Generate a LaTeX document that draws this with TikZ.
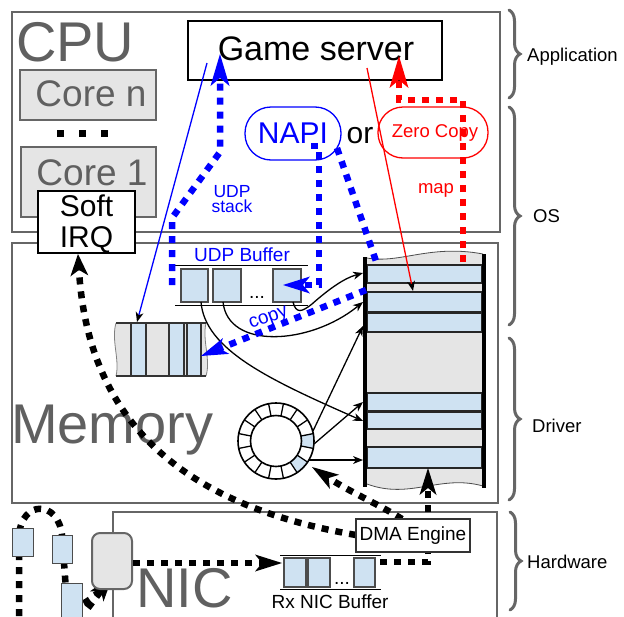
\documentclass[tikz,border=0pt]{standalone}
\usepackage{fontspec}
\setmainfont{Liberation Sans}
\usetikzlibrary{arrows.meta,decorations.pathreplacing}
\definecolor{lblue}{RGB}{207,226,242}
\definecolor{lgray}{RGB}{229,229,229}
\definecolor{bgray}{RGB}{102,102,102}
\definecolor{tgray}{RGB}{96,96,96}
\begin{document}
\begin{tikzpicture}[x=1pt,y=-1pt,
  every node/.style={inner sep=0pt},
  outer/.style={draw=bgray,line width=2.5pt},
  corebox/.style={draw=bgray,fill=lgray,line width=2pt},
  bigdots/.style={line width=6.5pt,dash pattern=on 7pt off 7pt},
  cell/.style={draw=black!70,fill=lblue,line width=1.2pt},
  thinarr/.style={line width=1.3pt,-{Stealth[length=10pt,width=8pt,inset=3pt,line width=0pt,color=black,fill=black]}},
  bighead/.style={-{Stealth[length=32pt,width=19pt,inset=8pt,line width=0pt]}},
  midhead/.style={-{Stealth[length=27pt,width=17pt,inset=7pt,line width=0pt]}},
  smallhead/.style={-{Stealth[length=22pt,width=18pt,inset=6pt,line width=0pt]}},
  brc/.style={draw=bgray,line width=3pt,line cap=round,decorate,decoration={brace,amplitude=11pt}},
  lbl/.style={font=\fontsize{18.5}{20}\selectfont,anchor=base west},
  mid/.style={font=\fontsize{19}{20}\selectfont,anchor=base},
  huge/.style={font=\fontsize{56}{60}\selectfont,anchor=base west,text=tgray}
]
\useasboundingbox (0,0) rectangle (624,616);
% outer boxes
\draw[outer] (12,12) rectangle (500,232);
\draw[outer] (12,243) rectangle (498,503);
\draw[outer] (113,640) -- (113,512) -- (497,512) -- (497,640);
% braces and labels
\draw[brc] (509,10) -- (509,98);
\draw[brc] (509,107) -- (509,325);
\draw[brc] (509,338) -- (509,500);
\draw[brc] (510,512) -- (510,610);
\node[lbl] (app) at (527,61) {Application};
\node[lbl] (os) at (533,222) {OS};
\node[lbl] (drv) at (532,432) {Driver};
\node[lbl] (hw) at (527,568) {Hardware};
% big titles
\node[huge] (cpu) at (16,61) {CPU};
\node[huge] (mem) at (11,443) {Memory};
\node[huge] (nic) at (136,607) {NIC};
% cores
\draw[corebox] (20,70) rectangle (156,120);
\node[anchor=base,text=tgray,font=\fontsize{37}{40}\selectfont] (coren) at (91,106) {Core n};
\fill (57,130) rectangle +(7,7);
\fill (79,130) rectangle +(7,7);
\fill (101,130) rectangle +(7,7);
\draw[corebox] (21,147) rectangle (156,217);
\node[anchor=base,text=tgray,font=\fontsize{37}{40}\selectfont] (core1) at (92,185) {Core 1};
% game server
\draw[line width=1.3pt] (188,21) rectangle (442,80);
\node[anchor=base,font=\fontsize{34}{36}\selectfont] (gs) at (316,60) {Game server};
% NAPI / or / Zero copy
\draw[blue,line width=1.3pt,rounded corners=26pt] (245,107) rectangle (341,160);
\node[anchor=base,blue,font=\fontsize{30}{32}\selectfont] (napi) at (293,143) {NAPI};
\node[anchor=base,font=\fontsize{30}{32}\selectfont] (or) at (360,143) {or};
\draw[red,line width=1.3pt,rounded corners=25pt] (378,107) rectangle (488,158);
\node[anchor=base,red,font=\fontsize{18.5}{20}\selectfont] (zc) at (435,137) {Zero Copy};
\node[anchor=base,red,font=\fontsize{18.5}{20}\selectfont] (map) at (436,193) {map};
\node[anchor=base,blue,font=\fontsize{17.5}{18}\selectfont] (udp) at (232,197) {UDP};
\node[anchor=base,blue,font=\fontsize{17.5}{18}\selectfont] (stack) at (232,212) {stack};
% DMA -> Soft IRQ
\draw[line width=1.8pt,fill=white] (38,191) rectangle (135,253);
\node[anchor=base,font=\fontsize{30}{32}\selectfont] (soft) at (86.5,216) {Soft};
\node[anchor=base,font=\fontsize{30}{32}\selectfont] (irq) at (86.5,247) {IRQ};
\draw[bigdots,smallhead] (356,535) .. controls (180,505) and (88,420) .. (78,254);
% left strip (socket buffer)
\fill[lgray] (116,323) -- (206,323) .. controls (202,340) and (211,360) .. (206,376) -- (116,376) .. controls (120,360) and (111,340) .. (116,323) -- cycle;
\draw[black!50,line width=0.8pt] (206,323) .. controls (202,340) and (211,360) .. (206,376);
\draw[black!50,line width=0.8pt] (116,376) .. controls (120,360) and (111,340) .. (116,323);
\fill[lblue] (131,323) rectangle (146,376);
\fill[lblue] (169,323) rectangle (184,376);
\fill[lblue] (187,323) rectangle (201,376);
\draw[line width=1.2pt,black!80] (116,323) -- (206,323) (116,376) -- (206,376);
\foreach \xx in {131,146,169,184,187,201} \draw[line width=1.1pt,black!80] (\xx,323) -- (\xx,376);
% UDP buffer
\node[mid,blue] (udpbuf) at (242,261) {UDP Buffer};
\draw[line width=1pt] (175,265) -- (308,265) (175,305) -- (308,305);
\draw[cell] (181,269) rectangle (208,302);
\draw[cell] (213,269) rectangle (241,302);
\draw[cell] (273,269) rectangle (301,302);
\node[mid] (udpdots) at (257,298) {...};
% ring
\begin{scope}[shift={(276,441)},y=1pt]
  \fill[lblue] (-11.25:25.5) -- (-11.25:38) arc[start angle=-11.25,end angle=11.25,radius=38] -- (11.25:25.5) arc[start angle=11.25,end angle=-11.25,radius=25.5] -- cycle;
  \fill[lblue] (-56.25:25.5) -- (-56.25:38) arc[start angle=-56.25,end angle=-33.75,radius=38] -- (-33.75:25.5) arc[start angle=-33.75,end angle=-56.25,radius=25.5] -- cycle;
  \foreach \a in {11.25,33.75,...,348.75} \draw[line width=1.3pt] (\a:25.5) -- (\a:38);
  \draw[line width=1.6pt] (0,0) circle[radius=38] (0,0) circle[radius=25.5];
\end{scope}
% big buffer
\fill[lgray] (367,258) .. controls (400,264) and (430,244) .. (483,254) -- (483,486) .. controls (440,474) and (410,500) .. (367,484) -- cycle;
\draw[black!70,line width=0.8pt] (367,258) .. controls (400,264) and (430,244) .. (483,254);
\draw[black!70,line width=0.8pt] (483,486) .. controls (440,474) and (410,500) .. (367,484);
\foreach \ya/\yb in {265/283,292/312,313/332,393/411,412/429,447/468}
  \draw[line width=1.2pt,black!85,fill=lblue] (367,\ya) rectangle (482,\yb);
\draw[line width=4pt] (365,257) -- (365,487);
\draw[line width=4pt] (484,254) -- (484,488);
% thin arrows into big buffer
\draw[thinarr] (293,302) .. controls (296,314) and (302,312) .. (312,304) .. controls (330,288) and (345,278) .. (363,273);
\draw[thinarr] (223,302) .. controls (228,350) and (310,345) .. (363,302);
\draw[thinarr] (201,302) .. controls (205,350) and (270,380) .. (363,421);
\draw[thinarr] (313,431) -- (363,326);
\draw[thinarr] (314,444) -- (363,402);
\draw[thinarr] (309,460) -- (363,460);
\draw[thinarr,red] (367,68) -- (413,291);
\draw[thinarr,blue] (207,63) -- (137,322);
% blue / red dotted
\draw[blue,bigdots,bighead] (172,285) -- (172,218) -- (220,152) -- (220,54);
\draw[blue,bigdots,midhead] (311,146) -- (319,146) -- (319,285) -- (283,285);
\draw[blue,bigdots] (337,148) -- (377,264);
\draw[blue,bigdots,midhead] (366,290) -- (201,356);
\node[mid,blue,rotate=20] (copy) at (270,322) {copy};
\draw[red,bigdots,bighead] (463,262) -- (463,100) -- (399,100) -- (399,56);
% NIC side packets
\draw[bigdots] (19,616) -- (19,535) .. controls (22,500) and (58,500) .. (62,535) -- (66,590) .. controls (68,612) and (85,612) .. (113,575);
\draw[bigdots,midhead] (88,608) -- (113,575);
\draw[cell,line width=1pt] (12,528) rectangle (33,556);
\draw[cell,line width=1pt] (52,535) rectangle (72,563);
\draw[cell,line width=1pt] (61,583) rectangle (82,620);
\draw[draw=bgray,fill=lgray,line width=2pt,rounded corners=8pt] (92,533) rectangle (132,589);
\draw[bigdots,midhead] (133,563) -- (282,563);
% Rx NIC buffer
\draw[line width=1pt] (280,555) -- (381,555) (280,589) -- (381,589);
\draw[cell] (284,558) rectangle (306,587);
\draw[cell] (308,558) rectangle (330,587);
\draw[cell] (354,558) rectangle (375,587);
\node[mid] (rxdots) at (342,584) {...};
\node[mid] (rx) at (330,608) {Rx NIC Buffer};
% DMA arrows
\draw[bigdots,midhead] (380,562) -- (428,562) -- (428,468);
\draw[bigdots,midhead] (402,519) .. controls (380,505) and (350,492) .. (312,467);
\draw[black!80,line width=1.2pt,fill=white] (356,519) rectangle (470,552);
\node[font=\fontsize{19}{20}\selectfont] (dma) at (413,535.5) {DMA Engine};
\end{tikzpicture}
\end{document}
